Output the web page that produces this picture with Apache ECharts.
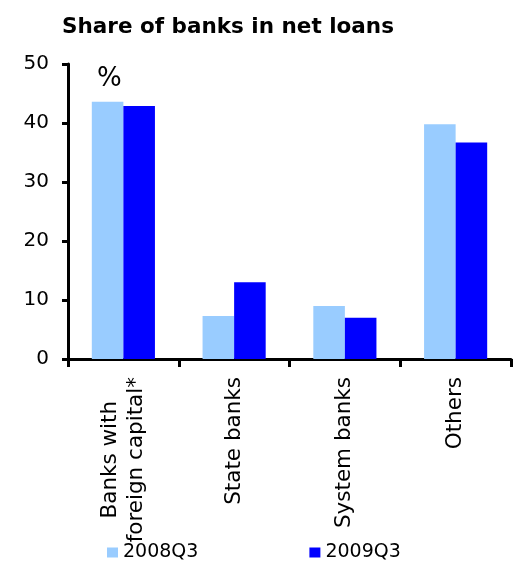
<!DOCTYPE html>
<html>
<head>
<meta charset="utf-8">
<script src="https://cdn.jsdelivr.net/npm/echarts@6/dist/echarts.min.js"></script>
<style>
  html, body { margin: 0; padding: 0; background: #fff; }
  #chart { width: 519px; height: 563px; }
</style>
</head>
<body>
<div id="chart"></div>
<script>
// data
const categories = ['Banks with\nforeign capital*', 'State banks', 'System banks', 'Others'];
const seriesNames = ['2008Q3', '2009Q3'];
const values2008 = [43.6, 7.3, 9.0, 39.8];
const values2009 = [42.9, 13.0, 7.0, 36.7];
const yTicks = [0, 10, 20, 30, 40, 50];

const font = 'DejaVu Sans, Verdana, sans-serif';
const chart = echarts.init(document.getElementById('chart'));

chart.setOption({
    animation: false,
    title: {
        text: 'Share of banks in net loans',
        left: 62,
        top: 16,
        padding: 0,
        textStyle: {
            color: '#000',
            fontFamily: font,
            fontWeight: 'bold',
            fontSize: 21.5,
        },
    },
    graphic: [{
        type: 'text',
        left: 97,
        top: 66,
        style: {
            text: '%',
            fill: '#000',
            font: '26px ' + font,
        },
    }],
    legend: {
        data: seriesNames,
        left: 107,
        top: 543,
        padding: 0,
        icon: 'rect',
        itemWidth: 11,
        itemHeight: 10,
        itemGap: 111,
        textStyle: {
            color: '#000',
            fontFamily: font,
            fontSize: 19,
        },
    },
    grid: {
        left: 68,
        right: 8,
        top: 64,
        bottom: 204,
        containLabel: false,
    },
    xAxis: {
        type: 'category',
        data: categories,
        axisLine: { lineStyle: { color: '#000', width: 3 } },
        axisTick: { show: true, length: 8, lineStyle: { color: '#000', width: 3 } },
        axisLabel: {
            interval: 0,
            rotate: 90,
            margin: 18,
            color: '#000',
            fontFamily: font,
            fontSize: 21.5,
            lineHeight: 26,
            formatter: function (v) {
                return v.split('\n').map(function (s) { return '{c|' + s + '}'; }).join('\n');
            },
            rich: {
                c: { align: 'center', fontFamily: font, fontSize: 21.5, lineHeight: 26, color: '#000' },
            },
        },
    },
    yAxis: {
        type: 'value',
        min: yTicks[0],
        max: yTicks[yTicks.length - 1],
        interval: 10,
        axisLine: { show: true, lineStyle: { color: '#000', width: 3 } },
        axisTick: { show: true, length: 6, lineStyle: { color: '#000', width: 3 } },
        splitLine: { show: false },
        axisLabel: {
            margin: 19,
            color: '#000',
            fontFamily: font,
            fontSize: 20,
        },
    },
    series: [{
        name: seriesNames[0],
        type: 'bar',
        data: values2008,
        barGap: '0%',
        barCategoryGap: '43%',
        itemStyle: { color: '#99CCFF' },
    }, {
        name: seriesNames[1],
        type: 'bar',
        data: values2009,
        barGap: '0%',
        barCategoryGap: '43%',
        itemStyle: { color: '#0000FF' },
    }],
});
</script>
</body>
</html>
